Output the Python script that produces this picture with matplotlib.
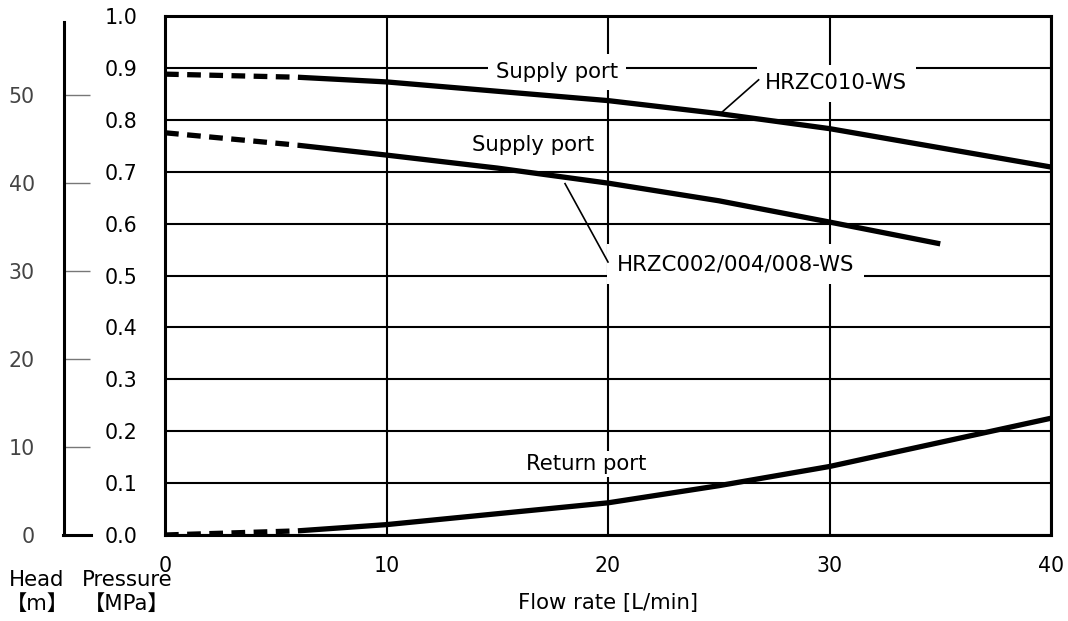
import matplotlib
matplotlib.use("Agg")
import matplotlib.pyplot as plt

# ---- data ----
flow_dash = [0, 6]
p010_dash = [0.888, 0.882]
flow_010 = [6, 10, 20, 25, 30, 40]
p010 = [0.882, 0.873, 0.837, 0.812, 0.783, 0.709]

p008_dash = [0.775, 0.751]
flow_008 = [6, 10, 15, 20, 25, 30, 35]
p008 = [0.751, 0.732, 0.707, 0.678, 0.644, 0.603, 0.561]

pret_dash = [0.0, 0.008]
flow_ret = [6, 10, 20, 25, 30, 40]
pret = [0.008, 0.020, 0.062, 0.095, 0.132, 0.225]

x_ticks = [0, 10, 20, 30, 40]
y_ticks = [0.0, 0.1, 0.2, 0.3, 0.4, 0.5, 0.6, 0.7, 0.8, 0.9, 1.0]
head_ticks = [0, 10, 20, 30, 40, 50]

plt.rcParams['font.family'] = ['DejaVu Sans', 'Noto Sans CJK JP']

W, H = 1068, 621
fig = plt.figure(figsize=(W / 100, H / 100), dpi=100)

def fx(px):
    return px / W

def fy(py):
    return 1 - py / H

L, R, T, B = 165, 1051, 16, 535
ax = fig.add_axes([fx(L), fy(B), fx(R) - fx(L), fy(T) - fy(B)])
ax.set_xlim(0, 40)
ax.set_ylim(0, 1.0)
ax.set_xticks(x_ticks)
ax.set_yticks(y_ticks)
ax.set_yticklabels([f"{v:.1f}" for v in y_ticks])
ax.tick_params(axis='both', length=0, labelsize=14.8, colors='black')
ax.tick_params(axis='y', pad=20)
ax.tick_params(axis='x', pad=15)
ax.grid(True, color='black', linewidth=1.5)
ax.set_axisbelow(True)
for s in ax.spines.values():
    s.set_linewidth(2.2)
    s.set_color('black')

lw = 3.8
dash = (0, (2.6, 1.6))
ax.plot(flow_dash, p010_dash, color='black', lw=lw, ls=dash, zorder=4)
ax.plot(flow_010, p010, color='black', lw=lw, zorder=4, solid_capstyle='butt')
ax.plot(flow_dash, p008_dash, color='black', lw=lw, ls=dash, zorder=4)
ax.plot(flow_008, p008, color='black', lw=lw, zorder=4, solid_capstyle='butt')
ax.plot(flow_dash, pret_dash, color='black', lw=lw, ls=dash, zorder=4)
ax.plot(flow_ret, pret, color='black', lw=lw, zorder=4, solid_capstyle='butt')

box = dict(facecolor='white', edgecolor='none', pad=6)
fs = 15.3
ax.text(17.7, 0.892, "Supply port", fontsize=fs, ha='center', va='center', bbox=box, zorder=3)
ax.text(27.1, 0.870, "HRZC010-WS", fontsize=fs, ha='left', va='center', bbox=box, zorder=3)
ax.plot([25.1, 26.8], [0.813, 0.877], color='black', lw=1.2, zorder=3)
ax.text(16.6, 0.751, "Supply port", fontsize=fs, ha='center', va='center', bbox=box, zorder=3)
ax.text(20.4, 0.522, "HRZC002/004/008-WS", fontsize=fs, ha='left', va='center',
        bbox=dict(facecolor='white', edgecolor='none', pad=7), zorder=3)
ax.plot([18.06, 20.0], [0.677, 0.526], color='black', lw=1.2, zorder=3.5)
ax.text(19.0, 0.137, "Return port", fontsize=fs, ha='center', va='center',
        bbox=dict(facecolor='white', edgecolor='none', pad=2), zorder=3)

ax.set_xlabel("Flow rate [L/min]", fontsize=fs, labelpad=12)

# head axis
hax = fig.add_axes([fx(64), fy(B), 0.001, fy(T) - fy(B)])
head_top = (B - T) / 8.8
hax.set_ylim(0, head_top)
hax.set_xlim(0, 1)
hax.patch.set_visible(False)
for k in ['top', 'right', 'bottom']:
    hax.spines[k].set_visible(False)
hax.spines['left'].set_linewidth(2.2)
hax.spines['left'].set_bounds(0, (B - 22) / 8.8)
hax.set_xticks([])
hax.set_yticks(head_ticks)
hax.tick_params(axis='y', direction='in', length=19, width=1.0, color='#777777',
                labelcolor='#444444', labelsize=14.8, pad=21)
# solid black base tick at 0
fig.add_artist(plt.Line2D([fx(63), fx(91)], [fy(B), fy(B)], color='black', lw=2.2))

fig.text(fx(37), fy(580), "Head", fontsize=fs, ha='center', va='center')
fig.text(fx(37), fy(604), "【m】", fontsize=fs, ha='center', va='center')
fig.text(fx(127), fy(580), "Pressure", fontsize=fs, ha='center', va='center')
fig.text(fx(127), fy(604), "【MPa】", fontsize=fs, ha='center', va='center')

fig.savefig("out.png", dpi=100, facecolor='white')
